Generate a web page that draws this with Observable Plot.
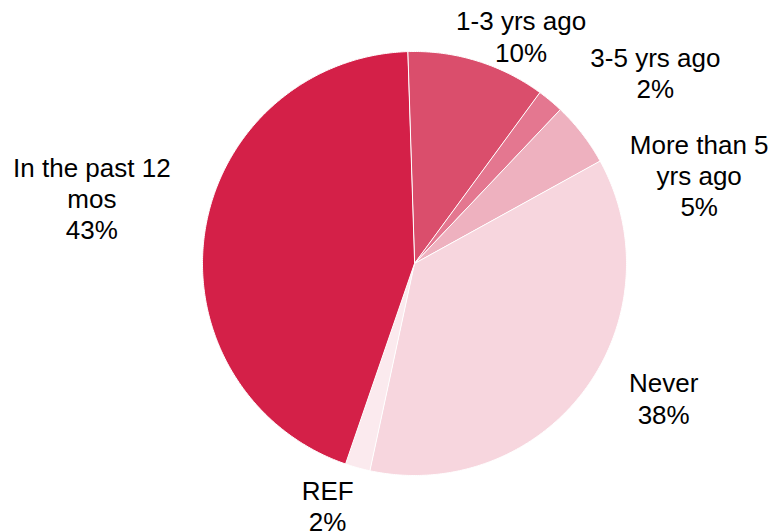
<!DOCTYPE html>
<html>
<head>
<meta charset="utf-8">
<script src="https://cdn.jsdelivr.net/npm/d3@7"></script>
<script src="https://cdn.jsdelivr.net/npm/@observablehq/plot@0.6"></script>
<style>
  html, body { margin: 0; padding: 0; background: #fff; }
  #chart svg { display: block; }
</style>
</head>
<body>
<div id="chart"></div>
<script>
// Slice order, clockwise from just left of 12 o'clock
const categories = ["1-3 yrs ago", "3-5 yrs ago", "More than 5 yrs ago", "Never", "REF", "In the past 12 mos"];
// Slice sizes as drawn (share of the circle, %)
const shares = [10.6, 2.0, 4.9, 36.4, 1.9, 44.2];
// Percent labels as printed
const percentLabels = ["10%", "2%", "5%", "38%", "2%", "43%"];
// Category text as wrapped in the chart
const labelLines = ["1-3 yrs ago", "3-5 yrs ago", "More than 5\nyrs ago", "Never", "REF", "In the past 12\nmos"];
const colors = ["#DA4E6C", "#E47790", "#EEB1BF", "#F7D6DE", "#FBEAEE", "#D42048"];

// layout (pixel offsets of each label from its slice's rim midpoint)
const labelOffsets = [[44, -25], [105, -28], [117, 41], [79, 8], [-30, 38], [-113, -34]];
const startDeg = -1.9;

const table = categories.map((c, i) => ({cat: c, share: shares[i]}));
const arcs = d3.pie().sort(null).value(d => d.share)
  .startAngle(startDeg * Math.PI / 180)
  .endAngle((startDeg + 360) * Math.PI / 180)(table);

// polygon points for each slice (center + sampled rim)
const pts = [];
arcs.forEach(a => {
  const cat = a.data.cat;
  pts.push({cat, x: 0, y: 0});
  const n = Math.max(4, Math.ceil((a.endAngle - a.startAngle) / (Math.PI / 360)));
  for (let k = 0; k <= n; k++) {
    const t = a.startAngle + (a.endAngle - a.startAngle) * k / n;
    pts.push({cat, x: Math.sin(t), y: Math.cos(t)});
  }
});

const labels = arcs.map((a, i) => {
  const m = (a.startAngle + a.endAngle) / 2;
  return {x: Math.sin(m), y: Math.cos(m), text: labelLines[i] + "\n" + percentLabels[i], off: labelOffsets[i]};
});

const chart = Plot.plot({
  width: 773,
  height: 532,
  marginLeft: 202,
  marginRight: 147,
  marginTop: 51,
  marginBottom: 57,
  x: {domain: [-1, 1], axis: null},
  y: {domain: [-1, 1], axis: null},
  color: {domain: categories, range: colors},
  style: {fontFamily: "'Liberation Sans', Arial, sans-serif", background: "#fff", overflow: "visible"},
  marks: [
    Plot.line(pts, {x: "x", y: "y", z: "cat", fill: "cat", stroke: "#fff", strokeWidth: 1, strokeLinejoin: "round", curve: "linear-closed"}),
    ...labels.map(l => Plot.text([l], {
      x: "x", y: "y", text: "text",
      dx: l.off[0], dy: l.off[1],
      fontSize: 26, lineHeight: 1.2, fill: "#000", textAnchor: "middle", lineAnchor: "middle"
    }))
  ]
});
document.getElementById("chart").appendChild(chart);
</script>
</body>
</html>
